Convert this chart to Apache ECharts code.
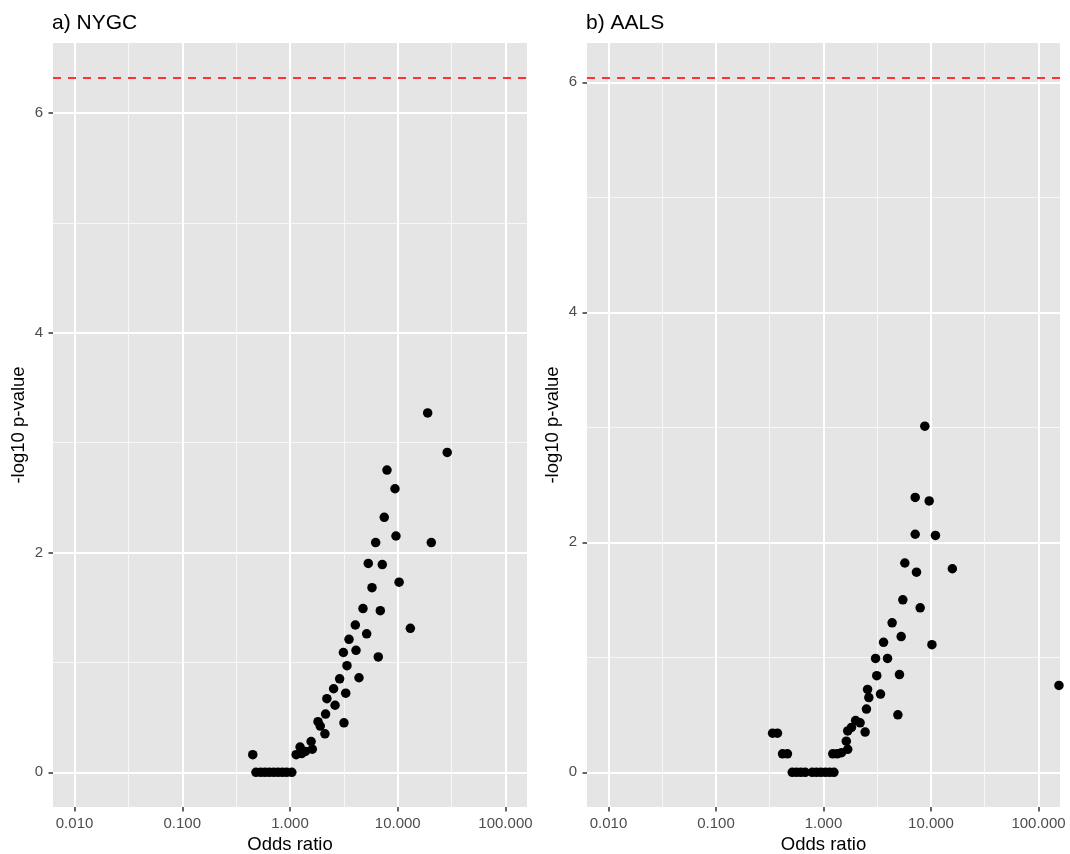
<!DOCTYPE html>
<html><head><meta charset="utf-8">
<script src="https://cdn.jsdelivr.net/npm/echarts@6/dist/echarts.min.js"></script>
<style>html,body{margin:0;padding:0;background:#fff}#c{width:1070px;height:854px}</style>
</head><body><div id="c"></div>
<script>
const panelTitles = ['a) NYGC', 'b) AALS'];
const xAxisTitle = 'Odds ratio';
const yAxisTitle = '-log10 p-value';

const nygcOddsRatio = [18.97, 28.8, 7.95, 9.43, 7.50, 9.63, 6.24, 20.5, 5.33, 7.19, 10.3, 5.77, 4.76, 6.89, 13.1, 4.04, 5.15, 3.53, 3.13, 4.10, 6.60, 3.38, 2.89, 4.37, 2.54, 3.29, 2.20, 2.62, 2.14, 3.17, 1.82, 1.91, 2.11, 1.57, 1.24, 1.61, 1.39, 1.14, 1.28, 0.451, 0.483, 0.535, 0.586, 0.643, 0.706, 0.774, 0.849, 0.931, 1.04];
const nygcLogP = [3.27, 2.91, 2.75, 2.58, 2.32, 2.15, 2.09, 2.09, 1.90, 1.89, 1.73, 1.68, 1.49, 1.47, 1.31, 1.34, 1.26, 1.21, 1.09, 1.11, 1.05, 0.97, 0.85, 0.86, 0.76, 0.72, 0.67, 0.61, 0.53, 0.45, 0.46, 0.42, 0.35, 0.28, 0.23, 0.21, 0.19, 0.16, 0.17, 0.16, 0, 0, 0, 0, 0, 0, 0, 0, 0];

const aalsOddsRatio = [8.76, 7.13, 9.62, 7.13, 11.0, 5.71, 7.33, 15.8, 5.47, 7.93, 4.35, 5.28, 3.62, 10.2, 3.05, 3.94, 3.13, 5.09, 2.57, 2.64, 3.39, 2.51, 4.92, 1.99, 2.19, 1.68, 2.44, 1.82, 1.63, 1.68, 1.22, 1.34, 1.47, 0.336, 0.373, 0.416, 0.462, 0.512, 0.561, 0.615, 0.676, 0.785, 0.861, 0.944, 1.04, 1.14, 1.25, 155];
const aalsLogP = [3.01, 2.39, 2.36, 2.07, 2.06, 1.82, 1.74, 1.77, 1.50, 1.43, 1.30, 1.18, 1.13, 1.11, 0.99, 0.99, 0.84, 0.85, 0.72, 0.65, 0.68, 0.55, 0.50, 0.45, 0.43, 0.36, 0.35, 0.39, 0.27, 0.20, 0.16, 0.16, 0.17, 0.34, 0.34, 0.16, 0.16, 0, 0, 0, 0, 0, 0, 0, 0, 0, 0, 0.755];

const thresholds = [6.32, 6.04];
const xTicks = [0.01, 0.1, 1, 10, 100];
const xMinorTicks = [0.0316228, 0.316228, 3.16228, 31.6228];
const yTicks = [0, 2, 4, 6];
const yMinorTicks = [1, 3, 5];
const xLimits = [0.00631, 158.5];
const yLimits = [[-0.316, 6.636], [-0.302, 6.342]];

const FONT = 'Liberation Sans';
const grids = [
  {left: 53, top: 43, width: 474, height: 764},
  {left: 587, top: 43, width: 473, height: 764}
];
const datasets = [
  nygcOddsRatio.map((x, i) => [x, nygcLogP[i]]),
  aalsOddsRatio.map((x, i) => [x, aalsLogP[i]])
];

const option = {
  animation: false,
  backgroundColor: '#ffffff',
  title: panelTitles.map((t, i) => ({
    text: t, left: grids[i].left - 1, top: 13, padding: 0,
    textStyle: {fontFamily: FONT, fontSize: 21, fontWeight: 'normal', color: '#000'}
  })),
  grid: grids.map(g => Object.assign({show: true, backgroundColor: '#E5E5E5', borderWidth: 0, containLabel: false, outerBoundsMode: 'none'}, g)),
  xAxis: [],
  yAxis: [],
  series: []
};

[0, 1].forEach(i => {
  option.xAxis.push({
    type: 'log', logBase: 10, gridIndex: i, min: xLimits[0], max: xLimits[1], position: 'bottom',
    name: xAxisTitle, nameLocation: 'middle', nameGap: 28,
    nameTextStyle: {fontFamily: FONT, fontSize: 18.5, color: '#000'},
    axisLine: {show: false, onZero: false},
    axisTick: {show: true, length: 4.5, customValues: xTicks, lineStyle: {color: '#333', width: 1.5}},
    axisLabel: {show: true, customValues: xTicks, margin: 9, fontFamily: FONT, fontSize: 15, color: '#4D4D4D',
      formatter: v => Number(v).toFixed(3)},
    splitLine: {show: true, lineStyle: {color: '#FFFFFF', width: 2}},
    minorTick: {show: false}
  });
  option.xAxis.push({
    type: 'log', logBase: 10, gridIndex: i, min: xLimits[0], max: xLimits[1], position: 'top',
    axisLine: {show: false, onZero: false},
    axisTick: {show: false, customValues: xMinorTicks},
    axisLabel: {show: false, customValues: xMinorTicks},
    splitLine: {show: true, lineStyle: {color: '#F7F7F7', width: 1}}
  });
  option.yAxis.push({
    type: 'value', gridIndex: i, min: yLimits[i][0], max: yLimits[i][1], splitNumber: 3, position: 'left',
    name: yAxisTitle, nameLocation: 'middle', nameGap: 25,
    nameTextStyle: {fontFamily: FONT, fontSize: 18.5, color: '#000'},
    axisLine: {show: false, onZero: false},
    axisTick: {show: true, length: 4.5, customValues: yTicks, lineStyle: {color: '#333', width: 1.5}},
    axisLabel: {show: true, customValues: yTicks, margin: 10, fontFamily: FONT, fontSize: 15, color: '#4D4D4D'},
    splitLine: {show: true, lineStyle: {color: '#FFFFFF', width: 2}}
  });
  option.yAxis.push({
    type: 'value', gridIndex: i, min: yLimits[i][0], max: yLimits[i][1], position: 'right',
    axisLine: {show: false, onZero: false},
    axisTick: {show: false, customValues: yMinorTicks},
    axisLabel: {show: false, customValues: yMinorTicks},
    splitLine: {show: true, lineStyle: {color: '#F7F7F7', width: 1}}
  });
  option.series.push({
    type: 'scatter', xAxisIndex: i * 2, yAxisIndex: i * 2,
    data: datasets[i], symbol: 'circle', symbolSize: 9.5,
    itemStyle: {color: '#000000', opacity: 1},
    z: 5,
    markLine: {
      silent: true, symbol: 'none', label: {show: false},
      lineStyle: {color: '#FF3333', width: 2, type: [8, 7], opacity: 1},
      data: [{yAxis: thresholds[i]}]
    }
  });
});

const chart = echarts.init(document.getElementById('c'), null, {renderer: 'canvas'});
chart.setOption(option);
</script>
</body></html>
